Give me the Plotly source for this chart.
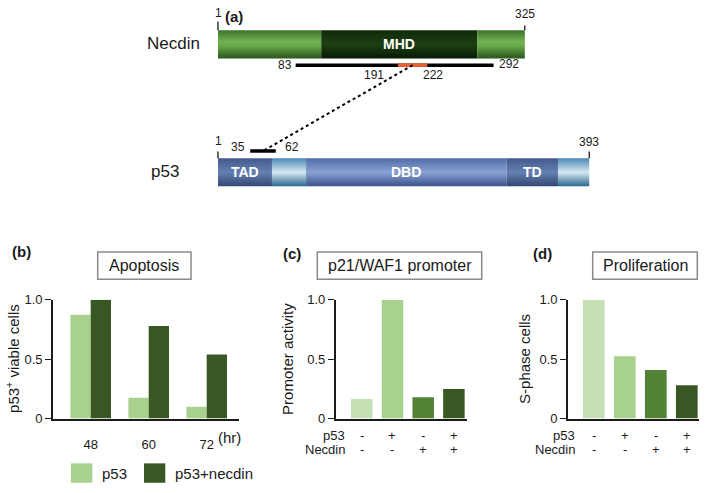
import plotly.graph_objects as go

# ---------------- data ----------------
# Panel (a): domain maps (residue numbers)
necdin_length = 325
necdin_starts = [1, 110, 275]
necdin_ends = [110, 275, 325]
necdin_kinds = ["green", "mhd", "green"]
necdin_texts = ["", "MHD", ""]
necdin_fragment = [83, 292]
necdin_binding = [191, 222]

p53_length = 393
p53_starts = [1, 58, 94, 306, 360]
p53_ends = [58, 94, 306, 360, 393]
p53_kinds = ["dark", "pale", "mid", "dark", "pale"]
p53_texts = ["TAD", "", "DBD", "TD", ""]
p53_binding = [35, 62]

# Panel (b): apoptosis
hours = ["48", "60", "72"]
viable_p53 = [0.875, 0.175, 0.10]
viable_p53_necdin = [1.0, 0.78, 0.54]

# Panel (c): p21/WAF1 promoter activity
promoter_activity = [0.165, 1.0, 0.18, 0.25]
# Panel (d): proliferation
s_phase = [1.0, 0.525, 0.41, 0.28]
p53_sign = ["-", "+", "-", "+"]
necdin_sign = ["-", "-", "+", "+"]

y_ticks = [0, 0.5, 1.0]
y_ticktext = ["0", "0.5", "1.0"]

# ---------------- style ----------------
W, H = 709, 493
FONT = "Liberation Sans, Arial, Helvetica, sans-serif"
LIGHT = "#A9D18E"
DARK = "#385723"
COND_COLORS = ["#C5E0B4", "#A9D18E", "#548235", "#385723"]

SCALES = {
    "green": [[0, "#2a561e"], [0.45, "#6aaa4a"], [0.6, "#72b152"], [1, "#3a732a"]],
    "mhd": [[0, "#081a04"], [0.5, "#1d4012"], [1, "#0f2a08"]],
    "dark": [[0, "#34467272"[:7]], [0.5, "#6480b2"], [1, "#44598c"]],
    "mid": [[0, "#39528a"], [0.5, "#8aa2d4"], [1, "#506ca8"]],
    "pale": [[0, "#28668f"], [0.5, "#d6e9f2"], [1, "#4a88b2"]],
}

# residue -> pixel scale for panel (a)
PX_PER_RES = 0.947
X_RES1 = 218
res_left = 1 - X_RES1 / PX_PER_RES
res_right = 1 + (W - X_RES1) / PX_PER_RES

# vertical rows of panel (a) (pixels from bottom)
NEC_Y0, NEC_Y1 = 440, 469
P53_Y0, P53_Y1 = 308, 337
FRAG_Y = 433
P53B_Y = 344.5


def px(x):
    return x / W


def py(y):
    return 1 - y / H


fig = go.Figure()


def seg(x0, x1, y0, y1, kind):
    fig.add_trace(go.Scatter(
        x=[x0, x1, x1, x0, x0], y=[y0, y0, y1, y1, y0],
        fill="toself", mode="lines", line=dict(width=0),
        fillgradient=dict(type="vertical", colorscale=SCALES[kind]),
        hoverinfo="skip", showlegend=False, xaxis="x", yaxis="y"))


for s, e, k in zip(necdin_starts, necdin_ends, necdin_kinds):
    seg(s, e, NEC_Y0, NEC_Y1, k)
for s, e, k in zip(p53_starts, p53_ends, p53_kinds):
    seg(s, e, P53_Y0, P53_Y1, k)

# fragment line, binding region
fig.add_trace(go.Scatter(x=necdin_fragment, y=[FRAG_Y, FRAG_Y], mode="lines",
                         line=dict(color="black", width=3.5), hoverinfo="skip",
                         showlegend=False, xaxis="x", yaxis="y"))
fig.add_trace(go.Scatter(x=necdin_binding, y=[FRAG_Y, FRAG_Y], mode="lines",
                         line=dict(color="#f0602e", width=3.5), hoverinfo="skip",
                         showlegend=False, xaxis="x", yaxis="y"))
fig.add_trace(go.Scatter(x=p53_binding, y=[P53B_Y, P53B_Y], mode="lines",
                         line=dict(color="black", width=3.5), hoverinfo="skip",
                         showlegend=False, xaxis="x", yaxis="y"))
fig.add_trace(go.Scatter(
    x=[sum(necdin_binding) / 2, sum(p53_binding) / 2], y=[FRAG_Y, P53B_Y],
    mode="lines", line=dict(color="black", width=2, dash="dot"),
    hoverinfo="skip", showlegend=False, xaxis="x", yaxis="y"))
# end ticks
for xv, ya, yb in [(1, NEC_Y1, NEC_Y1 + 9), (necdin_length, NEC_Y1, NEC_Y1 + 5),
                   (1, P53_Y1, P53_Y1 + 7), (p53_length, P53_Y1, P53_Y1 + 7)]:
    fig.add_trace(go.Scatter(x=[xv, xv], y=[ya, yb], mode="lines",
                             line=dict(color="black", width=1.2), hoverinfo="skip",
                             showlegend=False, xaxis="x", yaxis="y"))

ann = []


def text(x, y, t, size=13, xref="paper", yref="paper", xanchor="center",
         yanchor="middle", bold=False, color="#1a1a1a", xshift=0, angle=0):
    ann.append(dict(x=x, y=y, xref=xref, yref=yref, text=f"<b>{t}</b>" if bold else t,
                    showarrow=False, xanchor=xanchor, yanchor=yanchor,
                    xshift=xshift, textangle=angle,
                    font=dict(family=FONT, size=size, color=color)))


# panel (a) texts
text(px(234), py(10), "(a)", size=15, bold=True)
text(px(173), py(38), "Necdin", size=17)
text(px(165), py(170), "p53", size=17)
for s, e, t in zip(necdin_starts, necdin_ends, necdin_texts):
    if t:
        text((s + e) / 2, (NEC_Y0 + NEC_Y1) / 2, t, size=14, bold=True, color="white",
             xref="x", yref="y")
for s, e, t in zip(p53_starts, p53_ends, p53_texts):
    if t:
        text((s + e) / 2, (P53_Y0 + P53_Y1) / 2, t, size=14, bold=True, color="white",
             xref="x", yref="y")
text(1, NEC_Y1 + 18, "1", size=12, xref="x", yref="y")
text(necdin_length, NEC_Y1 + 17, str(necdin_length), size=12, xref="x", yref="y")
text(necdin_fragment[0], FRAG_Y, str(necdin_fragment[0]), size=12, xref="x", yref="y",
     xanchor="right", xshift=-2)
text(necdin_fragment[1], FRAG_Y + 1, str(necdin_fragment[1]), size=12, xref="x", yref="y",
     xanchor="left", xshift=3)
text(necdin_binding[0], FRAG_Y - 10, str(necdin_binding[0]), size=12, xref="x", yref="y",
     xanchor="right", xshift=-12)
text(necdin_binding[1], FRAG_Y - 10, str(necdin_binding[1]), size=12, xref="x", yref="y",
     xanchor="left", xshift=-6)
text(1, P53_Y1 + 18, "1", size=12, xref="x", yref="y")
text(p53_length, P53_Y1 + 17, str(p53_length), size=12, xref="x", yref="y")
text(p53_binding[0], P53B_Y + 4, str(p53_binding[0]), size=12, xref="x", yref="y",
     xanchor="right", xshift=-3)
text(p53_binding[1], P53B_Y + 4, str(p53_binding[1]), size=12, xref="x", yref="y",
     xanchor="left", xshift=7)

# ---------------- bar panels ----------------
fig.add_trace(go.Bar(x=hours, y=viable_p53, marker=dict(color=LIGHT, line=dict(width=0)),
                     name="p53", xaxis="x2", yaxis="y2", showlegend=False))
fig.add_trace(go.Bar(x=hours, y=viable_p53_necdin, marker=dict(color=DARK, line=dict(width=0)),
                     name="p53+necdin", xaxis="x2", yaxis="y2", showlegend=False))
cond = list(range(len(promoter_activity)))
fig.add_trace(go.Bar(x=cond, y=promoter_activity,
                     marker=dict(color=COND_COLORS, line=dict(width=0)),
                     xaxis="x3", yaxis="y3", showlegend=False))
fig.add_trace(go.Bar(x=cond, y=s_phase, marker=dict(color=COND_COLORS, line=dict(width=0)),
                     xaxis="x4", yaxis="y4", showlegend=False))

YDOM = [py(424.5), py(302)]
yax = dict(range=[0, 1], domain=YDOM, showgrid=False, zeroline=False, showline=True,
           linecolor="#1a1a1a", linewidth=1.6, ticks="outside", ticklen=6, tickwidth=1.4,
           tickcolor="#1a1a1a", tickvals=y_ticks, ticktext=y_ticktext,
           tickfont=dict(family=FONT, size=13, color="#1a1a1a"))
xax = dict(showgrid=False, zeroline=False, showline=True, linecolor="#1a1a1a",
           linewidth=1.6, fixedrange=True)

hidden = dict(visible=False, showgrid=False, zeroline=False, fixedrange=True)

fig.update_layout(
    width=W, height=H, margin=dict(l=0, r=0, t=0, b=0),
    paper_bgcolor="white", plot_bgcolor="rgba(0,0,0,0)",
    barmode="group", bargap=0.3, bargroupgap=0,
    showlegend=False,
    xaxis=dict(hidden, domain=[0, 1], range=[res_left, res_right]),
    yaxis=dict(hidden, domain=[0, 1], range=[0, H]),
    xaxis2=dict(xax, domain=[px(53), px(239)], range=[-0.65, 2.557], type="category",
                anchor="y2", ticks="outside", ticklen=13, tickcolor="rgba(0,0,0,0)",
                tickfont=dict(family=FONT, size=13, color="#1a1a1a")),
    yaxis2=dict(yax, anchor="x2"),
    xaxis3=dict(xax, domain=[px(335.7), px(467)], range=[-0.85, 3.427],
                anchor="y3", showticklabels=False, ticks=""),
    yaxis3=dict(yax, anchor="x3"),
    xaxis4=dict(xax, domain=[px(568), px(699)], range=[-0.832, 3.394],
                anchor="y4", showticklabels=False, ticks=""),
    yaxis4=dict(yax, anchor="x4"),
)

# panel labels, boxed titles
text(px(21), py(252), "(b)", size=15, bold=True)
text(px(292), py(254), "(c)", size=15, bold=True)
text(px(542), py(254), "(d)", size=15, bold=True)
shapes = []
for (x0, x1, title) in [(97.7, 191, "Apoptosis"), (317.3, 481.7, "p21/WAF1 promoter"),
                        (592.7, 697.3, "Proliferation")]:
    shapes.append(dict(type="rect", xref="paper", yref="paper", x0=px(x0), x1=px(x1),
                       y0=py(280.7), y1=py(252.7), line=dict(color="#8a8a8a", width=1.5)))
    text(px((x0 + x1) / 2), py(267), title, size=16)

# axis titles
text(px(13), py(363), "p53<sup>+</sup> viable cells", size=15, angle=-90)
text(px(288), py(363), "Promoter activity", size=15, angle=-90)
text(px(525), py(363), "S-phase cells", size=15, angle=-90)
text(px(229), py(444), "(hr)", size=15)

# +/- rows
for axis, right in [("x3", 347), ("x4", 577)]:
    text(px(right), py(441.5), "p53", size=13, xanchor="right")
    text(px(right), py(456), "Necdin", size=13, xanchor="right")
    for i, (a, b) in enumerate(zip(p53_sign, necdin_sign)):
        text(i, py(441.5), a, size=13, xref=axis)
        text(i, py(456), b, size=13, xref=axis)

# legend
for (x0, x1, col, lab, tx) in [(71, 92.3, LIGHT, "p53", 100), (144, 165.3, DARK, "p53+necdin", 173)]:
    shapes.append(dict(type="rect", xref="paper", yref="paper", x0=px(x0), x1=px(x1),
                       y0=py(490.7), y1=py(470.7), fillcolor=col, line=dict(width=0)))
    text(px(tx), py(481), lab, size=15, xanchor="left")

fig.update_layout(annotations=ann, shapes=shapes)

fig.write_html("out.html", config={"displayModeBar": False},
               post_script="document.body.style.margin='0';")
